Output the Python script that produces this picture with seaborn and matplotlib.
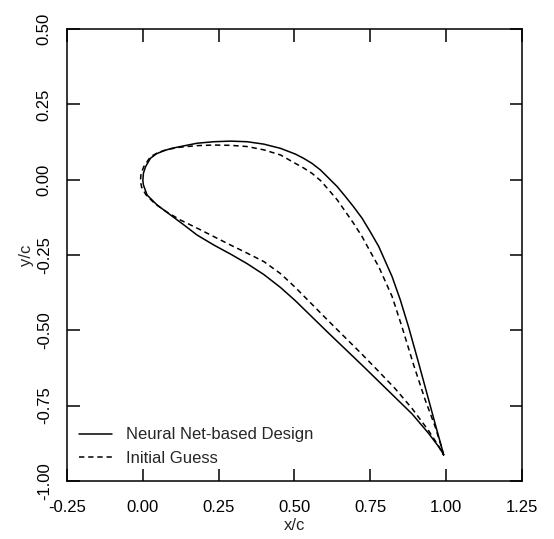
import pandas as pd
import seaborn as sns
import matplotlib.pyplot as plt

# coordinates, leading edge -> trailing edge
nn_upper_x = [0.000, 0.002, 0.009, 0.025, 0.045, 0.069, 0.095, 0.124, 0.179, 0.234,
              0.289, 0.344, 0.399, 0.454, 0.503, 0.530, 0.558, 0.586, 0.613, 0.641,
              0.668, 0.695, 0.723, 0.750, 0.778, 0.822, 0.849, 0.876, 0.909, 0.942,
              0.970, 0.986, 0.992]
nn_upper_y = [-0.003, 0.022, 0.043, 0.071, 0.086, 0.096, 0.104, 0.110, 0.121, 0.126,
              0.128, 0.126, 0.118, 0.104, 0.085, 0.071, 0.054, 0.032, 0.005, -0.023,
              -0.056, -0.090, -0.128, -0.173, -0.222, -0.322, -0.399, -0.488, -0.607, -0.729,
              -0.833, -0.891, -0.914]
nn_lower_x = [0.000, 0.002, 0.014, 0.047, 0.091, 0.135, 0.179, 0.234, 0.289, 0.344,
              0.399, 0.454, 0.503, 0.558, 0.613, 0.668, 0.723, 0.778, 0.833, 0.888,
              0.942, 0.975, 0.986, 0.992]
nn_lower_y = [-0.003, -0.018, -0.051, -0.084, -0.117, -0.150, -0.184, -0.217, -0.247, -0.279,
              -0.315, -0.358, -0.402, -0.456, -0.510, -0.563, -0.616, -0.670, -0.724, -0.778,
              -0.842, -0.886, -0.903, -0.914]

ig_upper_x = [-0.008, -0.006, 0.003, 0.025, 0.050, 0.080, 0.124, 0.179, 0.234, 0.289,
              0.344, 0.399, 0.454, 0.503, 0.530, 0.558, 0.586, 0.613, 0.641, 0.668,
              0.695, 0.723, 0.750, 0.778, 0.822, 0.855, 0.893, 0.931, 0.964, 0.981,
              0.992]
ig_upper_y = [-0.005, 0.020, 0.043, 0.076, 0.090, 0.100, 0.108, 0.113, 0.115, 0.114,
              0.110, 0.099, 0.082, 0.054, 0.039, 0.021, -0.003, -0.034, -0.067, -0.106,
              -0.145, -0.189, -0.239, -0.289, -0.388, -0.490, -0.615, -0.731, -0.820, -0.875,
              -0.914]
ig_lower_x = [-0.008, -0.004, 0.010, 0.040, 0.080, 0.124, 0.179, 0.234, 0.289, 0.344,
              0.399, 0.454, 0.503, 0.558, 0.613, 0.668, 0.723, 0.778, 0.833, 0.888,
              0.942, 0.975, 0.992]
ig_lower_y = [-0.005, -0.025, -0.050, -0.080, -0.108, -0.134, -0.161, -0.189, -0.217, -0.244,
              -0.272, -0.312, -0.358, -0.414, -0.470, -0.525, -0.580, -0.637, -0.695, -0.760,
              -0.833, -0.884, -0.914]

labels = ["Neural Net-based Design", "Initial Guess"]
x_ticks = [-0.25, 0.00, 0.25, 0.50, 0.75, 1.00, 1.25]
y_ticks = [-1.00, -0.75, -0.50, -0.25, 0.00, 0.25, 0.50]


def closed_loop(ux, uy, lx, ly, name):
    # trailing edge -> upper surface -> leading edge -> lower surface -> trailing edge
    x = ux[::-1] + lx[1:]
    y = uy[::-1] + ly[1:]
    return pd.DataFrame({"x": x, "y": y, "design": name})


df = pd.concat([
    closed_loop(nn_upper_x, nn_upper_y, nn_lower_x, nn_lower_y, labels[0]),
    closed_loop(ig_upper_x, ig_upper_y, ig_lower_x, ig_lower_y, labels[1]),
], ignore_index=True)

sns.set_style("ticks")
plt.rcParams["font.family"] = ["Liberation Sans", "DejaVu Sans"]

fig = plt.figure(figsize=(5.54, 5.39), dpi=100)
ax = fig.add_axes([0.121, 0.108, 0.821, 0.838])

sns.lineplot(data=df, x="x", y="y", style="design", style_order=labels,
             dashes={labels[0]: "", labels[1]: (3.5, 2.5)},
             sort=False, estimator=None, color="black", linewidth=1.1, ax=ax)

ax.set_xlim(-0.25, 1.25)
ax.set_ylim(-1.0, 0.5)
ax.set_xticks(x_ticks)
ax.set_yticks(y_ticks)
ax.set_xticklabels([f"{t:.2f}" for t in x_ticks])
ax.set_yticklabels([f"{t:.2f}" for t in y_ticks], rotation=90, va="center")
ax.tick_params(direction="in", length=9, width=1.1, top=True, right=True,
               labelsize=12, colors="black")
ax.tick_params(axis="x", pad=14)
ax.tick_params(axis="y", pad=11)
for s in ax.spines.values():
    s.set_linewidth(1.1)
    s.set_color("black")

ax.set_xlabel("x/c", fontsize=12, labelpad=2)
ax.set_ylabel("y/c", fontsize=12, labelpad=2)

handles, _ = ax.get_legend_handles_labels()
ax.legend(handles, labels, loc="lower left", bbox_to_anchor=(-0.007, 0.0),
          frameon=False, fontsize=12, handlelength=2.0, handletextpad=0.8,
          labelspacing=0.5)

fig.savefig("out.png", dpi=100)
